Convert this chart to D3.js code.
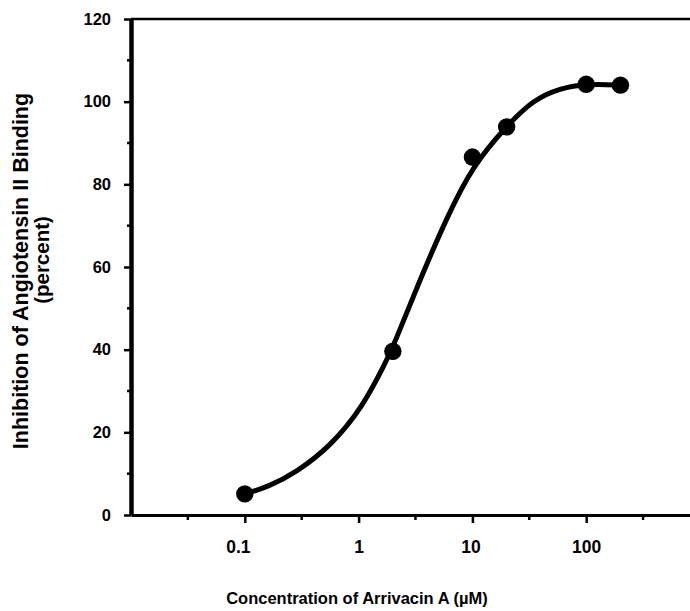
<!DOCTYPE html>
<html>
<head>
<meta charset="utf-8">
<script src="https://cdn.jsdelivr.net/npm/d3@7"></script>
<style>
  html, body { margin: 0; padding: 0; background: #fff; }
  svg { display: block; }
  text { font-family: "Liberation Sans", Arial, Helvetica, sans-serif; font-weight: bold; fill: #000; }
</style>
</head>
<body>
<svg id="chart" width="690" height="611"></svg>
<script>
// Measured data points
const concentrations = [0.1, 2, 10, 20, 100, 200];
const inhibition = [5.1, 39.6, 86.6, 93.9, 104.2, 104.0];

// Fitted curve
const curveConc = [0.1, 0.16, 0.286, 0.56, 1.09, 1.77, 2.0, 3.46, 5.98, 10.1, 20.1, 34.1, 58.9, 102, 200];
const curveValue = [5.1, 6.8, 10.4, 16.5, 26.1, 37.5, 40.6, 56.9, 72.1, 84.6, 94.2, 100.4, 103.3, 104.3, 104.0];

// Axis ticks
const xMajorTicks = [0.1, 1, 10, 100];
const xTickLabels = ["0.1", "1", "10", "100"];
const xMinorTicks = [0.0316, 0.316, 3.16, 31.6, 316];
const yMajorTicks = [0, 20, 40, 60, 80, 100, 120];
const yMinorTicks = [10, 30, 50, 70, 90, 110];

(function () {
const svg = d3.select("#chart");
const mLeft = 131, mRight = 700, mTop = 19, mBottom = 515;

const x = d3.scaleLog().domain([0.01, 1000]).range([mLeft, mRight]);
const y = d3.scaleLinear().domain([0, 120]).range([mBottom, mTop]);

// Frame: top line
svg.append("line").attr("x1", mLeft).attr("x2", 690).attr("y1", mTop).attr("y2", mTop)
  .attr("stroke", "#000").attr("stroke-width", 2.5);

// X axis
const xAxis = svg.append("g").attr("transform", `translate(0,${mBottom})`);
xAxis.call(d3.axisBottom(x).tickValues(xMajorTicks)
  .tickFormat((d, i) => xTickLabels[i]).tickSize(8).tickPadding(18).tickSizeOuter(0));
xAxis.select(".domain").attr("stroke-width", 3);
xAxis.selectAll(".tick line").attr("stroke-width", 2.5);
xAxis.selectAll(".tick text").style("font-size", "17.5px")
  .attr("dx", d => d < 1 ? -7 : (d === 10 ? -2 : 0));
xAxis.selectAll(".minor").data(xMinorTicks).enter().append("line")
  .attr("x1", d => x(d)).attr("x2", d => x(d)).attr("y1", 0).attr("y2", 5)
  .attr("stroke", "#000").attr("stroke-width", 2.5);

// Y axis
const yAxis = svg.append("g").attr("transform", `translate(${mLeft},0)`);
yAxis.call(d3.axisLeft(y).tickValues(yMajorTicks).tickSize(7).tickPadding(13).tickSizeOuter(0));
yAxis.select(".domain").attr("stroke-width", 4.5);
yAxis.selectAll(".tick line").attr("stroke-width", 2.5);
yAxis.selectAll(".tick text").style("font-size", "16.5px");
yAxis.selectAll(".minor").data(yMinorTicks).enter().append("line")
  .attr("x1", 0).attr("x2", -4).attr("y1", d => y(d)).attr("y2", d => y(d))
  .attr("stroke", "#000").attr("stroke-width", 2.5);

// Fitted curve
const curvePts = curveConc.map((c, i) => [c, curveValue[i]]);
const line = d3.line().x(d => x(d[0])).y(d => y(d[1])).curve(d3.curveBasis);
svg.append("path").attr("d", line(curvePts)).attr("fill", "none")
  .attr("stroke", "#000").attr("stroke-width", 5).attr("stroke-linecap", "round")
  .attr("stroke-linejoin", "round");

// Points
svg.selectAll(".pt").data(concentrations).enter().append("circle")
  .attr("cx", d => x(d)).attr("cy", (d, i) => y(inhibition[i])).attr("r", 8.7).attr("fill", "#000");

// Axis titles
svg.append("text").attr("x", 357).attr("y", 604).attr("text-anchor", "middle")
  .style("font-size", "16.5px").text("Concentration of Arrivacin A (\u00b5M)");

svg.append("text").attr("transform", "translate(28,271) rotate(-90)")
  .attr("text-anchor", "middle").style("font-size", "21.5px")
  .text("Inhibition of Angiotensin II Binding");
svg.append("text").attr("transform", "translate(48.5,260) rotate(-90)")
  .attr("text-anchor", "middle").style("font-size", "20.5px")
  .text("(percent)");
})();
</script>
</body>
</html>
